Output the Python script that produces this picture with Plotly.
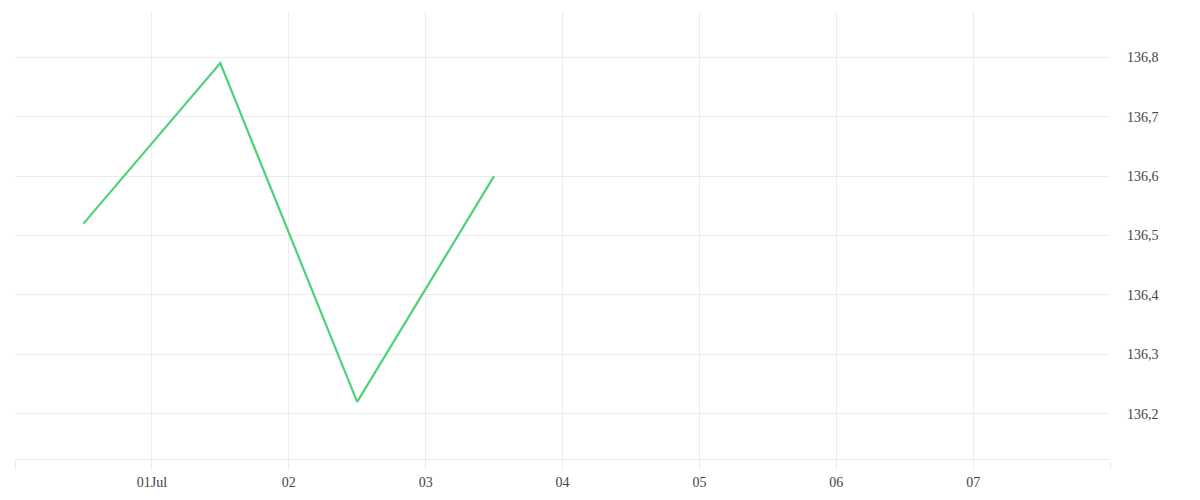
import plotly.graph_objects as go

# data
dates = ["2023-06-30 12:00", "2023-07-01 12:00", "2023-07-02 12:00", "2023-07-03 12:00"]
prices = [136.52, 136.79, 136.22, 136.60]

tick_dates = ["2023-06-30", "2023-07-01", "2023-07-02", "2023-07-03", "2023-07-04",
              "2023-07-05", "2023-07-06", "2023-07-07", "2023-07-08"]
tick_labels = ["", "01Jul", "02", "03", "04", "05", "06", "07", ""]
price_ticks = [136.2, 136.3, 136.4, 136.5, 136.6, 136.7, 136.8]

grid = "#ececec"
font_name = "Liberation Serif"
text_col = "#444444"

fig = go.Figure()

fig.add_trace(go.Scatter(
    x=dates,
    y=prices,
    mode="lines",
    line=dict(color="#4dd27b", width=2.2),
    showlegend=False,
))

# page body adds 8px, so margins are trimmed to put the plot area where the reference has it
fig.update_layout(
    width=1200,
    height=500,
    margin=dict(l=7, r=98, t=4, b=49),
    plot_bgcolor="white",
    paper_bgcolor="white",
    separators=",.",
    font=dict(family=font_name, size=14, color=text_col),
    xaxis=dict(
        range=["2023-06-30", "2023-07-08"],
        tickvals=tick_dates,
        ticktext=tick_labels,
        showgrid=True,
        gridcolor=grid,
        gridwidth=1,
        ticks="outside",
        ticklen=10,
        tickcolor=grid,
        showline=True,
        linecolor=grid,
        linewidth=1,
        zeroline=False,
        tickfont=dict(family=font_name, size=14, color=text_col),
    ),
    yaxis=dict(
        side="right",
        range=[136.124, 136.876],
        tickvals=price_ticks,
        tickformat=".1f",
        showgrid=True,
        gridcolor=grid,
        gridwidth=1,
        ticks="",
        showline=False,
        zeroline=False,
        ticklabelstandoff=16,
        tickfont=dict(family=font_name, size=14, color=text_col),
    ),
)

fig.write_html("out.html")
